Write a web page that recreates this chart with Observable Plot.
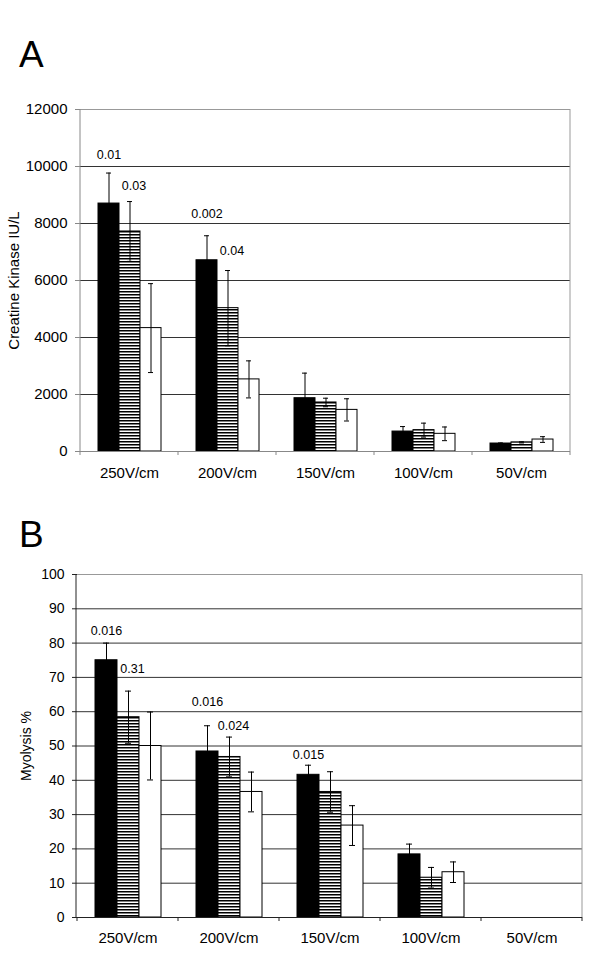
<!DOCTYPE html>
<html>
<head>
<meta charset="utf-8">
<script src="https://cdn.jsdelivr.net/npm/d3@7"></script>
<script src="https://cdn.jsdelivr.net/npm/@observablehq/plot@0.6"></script>
<style>
  body { margin: 0; background: white; font-family: "Liberation Sans", Arial, sans-serif; }
  #root { position: relative; width: 600px; height: 964px; }
  .letter { position: absolute; font-size: 37px; line-height: 37px; color: black; }
  .panel { position: absolute; left: 0; }
</style>
</head>
<body>
<svg width="0" height="0" style="position:absolute">
  <defs>
    <pattern id="stripes" width="6" height="3" patternUnits="userSpaceOnUse">
      <rect width="6" height="3" fill="white"></rect>
      <rect width="6" height="1.5" fill="black"></rect>
    </pattern>
  </defs>
</svg>
<div id="root">
  <div class="letter" style="left:19px;top:36px">A</div>
  <div class="panel" id="panelA" style="top:90px"></div>
  <div class="letter" style="left:19px;top:516px">B</div>
  <div class="panel" id="panelB" style="top:555px"></div>
</div>
<script>
// ---------- data ----------
const categories = ["250V/cm", "200V/cm", "150V/cm", "100V/cm", "50V/cm"];
const series = ["black", "striped", "white"];
const seriesFill = ["black", "url(#stripes)", "white"];

// Panel A: Creatine Kinase IU/L
const ckBlack = [8700, 6710, 1870, 700, 280];
const ckBlackErr = [1070, 860, 880, 175, 20];
const ckStriped = [7720, 5030, 1720, 750, 320];
const ckStripedErr = [1050, 1320, 150, 245, 20];
const ckWhite = [4330, 2530, 1460, 620, 420];
const ckWhiteErr = [1560, 650, 390, 240, 100];
const ckTicks = [0, 2000, 4000, 6000, 8000, 10000, 12000];
const ckPCat = ["250V/cm", "250V/cm", "200V/cm", "200V/cm"];
const ckPSeries = ["black", "striped", "black", "striped"];
const ckPText = ["0.01", "0.03", "0.002", "0.04"];
const ckPAt = [10420, 9310, 8316, 7030];

// Panel B: Myolysis %
const myoBlack = [75, 48.4, 41.6, 18.4, null];
const myoBlackErr = [5, 7.5, 2.8, 3, null];
const myoStriped = [58.4, 46.8, 36.6, 11.6, null];
const myoStripedErr = [7.6, 5.8, 5.9, 3, null];
const myoWhite = [50, 36.6, 26.8, 13.2, null];
const myoWhiteErr = [9.9, 5.8, 5.8, 3, null];
const myoTicks = [0, 10, 20, 30, 40, 50, 60, 70, 80, 90, 100];
const myoPCat = ["250V/cm", "250V/cm", "200V/cm", "200V/cm", "150V/cm"];
const myoPSeries = ["black", "striped", "black", "striped", "black"];
const myoPText = ["0.016", "0.31", "0.016", "0.024", "0.015"];
const myoPAt = [83.4, 72.5, 62.8, 55.8, 47.5];

// ---------- build tables ----------
function rowsOf(vals, errs) {
  const out = [];
  categories.forEach((c, i) => {
    series.forEach((s, j) => {
      if (vals[j][i] != null) out.push({cat: c, series: s, v: vals[j][i], e: errs[j][i]});
    });
  });
  return out;
}
function pOf(cats, ser, txt, at) {
  return cats.map((c, i) => ({cat: c, series: ser[i], p: txt[i], at: at[i]}));
}

function makePanel(cfg) {
  const rows = rowsOf(cfg.vals, cfg.errs);
  const pv = pOf(cfg.pCat, cfg.pSeries, cfg.pText, cfg.pAt);
  const ticks = cfg.ticks;
  const inner = ticks.slice(1, -1);
  const top = ticks[ticks.length - 1];
  const chart = Plot.plot({
    width: 600,
    height: 400,
    marginTop: cfg.mt,
    marginBottom: cfg.mb,
    marginLeft: cfg.ml,
    marginRight: cfg.mr,
    style: {fontFamily: "'Liberation Sans', Arial, sans-serif", fontSize: "14px", color: "black", background: "white", overflow: "visible"},
    fx: {domain: categories, padding: 0, label: null},
    x: {domain: series, paddingInner: 0, paddingOuter: 0.73, axis: null},
    y: {domain: [0, top]},
    color: {domain: series, range: seriesFill},
    marks: [
      Plot.gridY(inner, {stroke: cfg.gridColor, strokeOpacity: 1}),
      Plot.ruleY(categories, {fx: d => d, y: () => top, stroke: "#999"}),
      Plot.barY(rows, {fx: "cat", x: "series", y: "v", fill: "series", stroke: "black", strokeWidth: 1}),
      Plot.ruleX(rows, {fx: "cat", x: "series", y1: d => d.v - d.e, y2: d => d.v + d.e, stroke: "black"}),
      Plot.tickY(rows, {fx: "cat", x: "series", y: d => d.v + d.e, stroke: "black", insetLeft: 8, insetRight: 8}),
      Plot.tickY(rows, {fx: "cat", x: "series", y: d => d.v - d.e, stroke: "black", insetLeft: 8, insetRight: 8}),
      Plot.ruleY(categories, {fx: d => d, y: () => 0, stroke: cfg.axisColor}),
      Plot.text(pv.filter(d => d.series !== "striped"), {fx: "cat", x: "series", y: "at", text: "p", fontSize: 12.5, fill: "black"}),
      Plot.text(pv.filter(d => d.series === "striped"), {fx: "cat", x: "series", y: "at", text: "p", dx: 4, fontSize: 12.5, fill: "black"}),
      Plot.axisFx({anchor: "bottom", tickSize: 0, tickPadding: cfg.catPad, fontSize: 15, label: null}),
      Plot.axisY(ticks, {anchor: "left", tickSize: 5, tickPadding: 8, tickFormat: "d", fontSize: cfg.tickFont,
        stroke: cfg.axisColor, fill: "black",
        label: cfg.label, labelAnchor: "center", labelArrow: "none", labelOffset: cfg.labelOffset})
    ]
  });
  // frame decorations using the chart's own scales
  const fx = chart.scale("fx");
  const y = chart.scale("y");
  const [x0, x1] = fx.range;
  const y0 = y.apply(0), yTop = y.apply(top);
  const g = d3.select(chart).append("g").attr("fill", "none");
  g.append("line").attr("x1", x0).attr("x2", x0).attr("y1", yTop).attr("y2", y0).attr("stroke", cfg.axisColor);
  g.append("line").attr("x1", x1).attr("x2", x1).attr("y1", yTop).attr("y2", y0).attr("stroke", "#999");
  const bounds = categories.map(c => fx.apply(c)).concat([x1]);
  bounds.forEach(b => {
    g.append("line").attr("x1", b).attr("x2", b).attr("y1", y0).attr("y2", y0 + 4).attr("stroke", cfg.axisColor);
  });
  return chart;
}

document.getElementById("panelA").appendChild(makePanel({
  vals: [ckBlack, ckStriped, ckWhite],
  errs: [ckBlackErr, ckStripedErr, ckWhiteErr],
  pCat: ckPCat, pSeries: ckPSeries, pText: ckPText, pAt: ckPAt,
  ticks: ckTicks,
  mt: 19, mb: 39, ml: 80, mr: 30,
  gridColor: "#333", axisColor: "#888",
  catPad: 16, tickFont: 15,
  label: "Creatine Kinase IU/L", labelOffset: 72
}));

document.getElementById("panelB").appendChild(makePanel({
  vals: [myoBlack, myoStriped, myoWhite],
  errs: [myoBlackErr, myoStripedErr, myoWhiteErr],
  pCat: myoPCat, pSeries: myoPSeries, pText: myoPText, pAt: myoPAt,
  ticks: myoTicks,
  mt: 19, mb: 38, ml: 76, mr: 18,
  gridColor: "#333", axisColor: "#222",
  catPad: 15, tickFont: 14,
  label: "Myolysis %", labelOffset: 56
}));
</script>
</body>
</html>
